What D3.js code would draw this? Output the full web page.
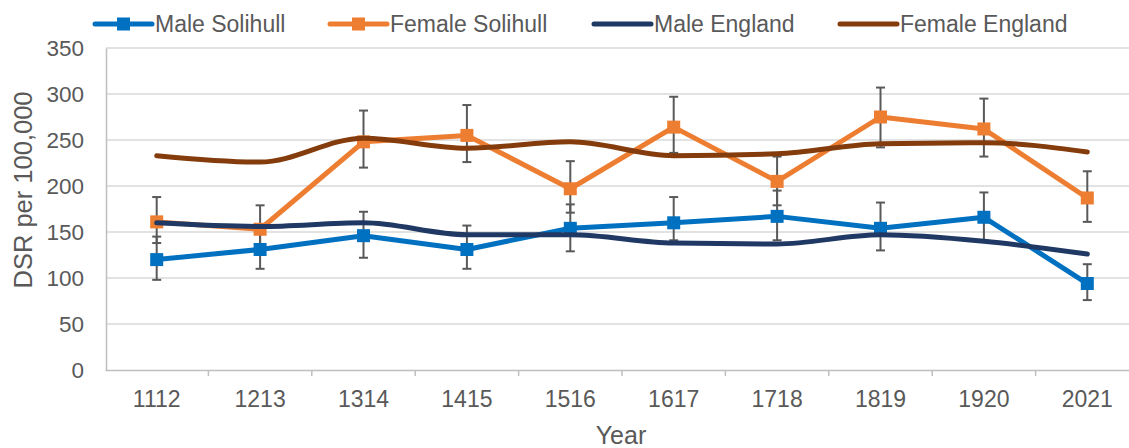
<!DOCTYPE html>
<html>
<head>
<meta charset="utf-8">
<script src="https://cdn.jsdelivr.net/npm/d3@7"></script>
<style>
    body { margin: 0; background: #fff; }
    text { font-family: "Liberation Sans", Arial, sans-serif; fill: #595959; }
</style>
</head>
<body>
<svg class="chart"></svg>
<script>
var years = ["1112", "1213", "1314", "1415", "1516", "1617", "1718", "1819", "1920", "2021"];
var yTicks = [0, 50, 100, 150, 200, 250, 300, 350];

var maleSolihull = [120, 131, 146, 131, 154, 160, 167, 154, 166, 94];
var maleSolihullLow = [98, 110, 122, 110, 129, 141, 141, 130, 141, 76];
var maleSolihullHigh = [145, 153, 172, 157, 180, 188, 195, 182, 193, 115];

var femaleSolihull = [161, 153, 248, 255, 197, 264, 205, 275, 262, 187];
var femaleSolihullLow = [138, 130, 220, 226, 171, 236, 179, 242, 232, 161];
var femaleSolihullHigh = [188, 179, 282, 288, 227, 297, 232, 307, 295, 216];

var maleEngland = [160, 156, 160, 147, 147, 138, 137, 147, 140, 126];
var femaleEngland = [233, 226, 252, 241, 248, 233, 235, 246, 247, 237];

var seriesNames = ["Male Solihull", "Female Solihull", "Male England", "Female England"];
var seriesColors = ["#0070C0", "#ED7D31", "#1F3864", "#843C0C"];

var series = [
    {name: seriesNames[0], color: seriesColors[0], values: maleSolihull, low: maleSolihullLow, high: maleSolihullHigh, markers: true},
    {name: seriesNames[1], color: seriesColors[1], values: femaleSolihull, low: femaleSolihullLow, high: femaleSolihullHigh, markers: true},
    {name: seriesNames[2], color: seriesColors[2], values: maleEngland, markers: false},
    {name: seriesNames[3], color: seriesColors[3], values: femaleEngland, markers: false}
];

var width = 1129, height = 448;
var svg = d3.select(".chart").attr("width", width).attr("height", height);

var xRange = d3.scaleBand().domain(years).range([105, 1139]);
var yRange = d3.scaleLinear().domain([0, 350]).range([370, 48]);

// gridlines
svg.append("g").selectAll("line")
    .data(yTicks.slice(1))
    .enter().append("line")
    .attr("x1", 106).attr("x2", width)
    .attr("y1", function (d) { return yRange(d); })
    .attr("y2", function (d) { return yRange(d); })
    .attr("stroke", "#d9d9d9").attr("stroke-width", 1.5);

// y axis
var yAxis = svg.append("g")
    .attr("transform", "translate(106,0)")
    .call(d3.axisLeft(yRange).tickValues(yTicks).tickSize(0).tickPadding(22));
yAxis.select(".domain").attr("stroke", "#bfbfbf").attr("stroke-width", 1.5);
yAxis.selectAll("text").style("font-size", "22.5px").attr("fill", "#595959");

// x axis
var xAxis = svg.append("g")
    .attr("transform", "translate(0,370)")
    .call(d3.axisBottom(xRange).tickSize(0).tickPadding(21));
xAxis.select(".domain").attr("stroke", "#bfbfbf").attr("stroke-width", 1.5);
xAxis.selectAll("text").style("font-size", "23px").attr("fill", "#595959");
xAxis.selectAll(".boundary")
    .data(years.slice(1))
    .enter().append("line")
    .attr("x1", function (d) { return xRange(d); })
    .attr("x2", function (d) { return xRange(d); })
    .attr("y1", 0).attr("y2", 6)
    .attr("stroke", "#bfbfbf").attr("stroke-width", 1.5);

// axis titles
svg.append("text")
    .attr("transform", "translate(32,190) rotate(-90)")
    .style("text-anchor", "middle")
    .style("font-size", "25.5px")
    .text("DSR per 100,000");
svg.append("text")
    .attr("x", 621).attr("y", 444)
    .style("text-anchor", "middle")
    .style("font-size", "25px")
    .text("Year");

var cx = function (d, i) { return xRange(years[i]) + xRange.bandwidth() / 2; };

// error bars
series.forEach(function (s) {
    if (!s.low) return;
    var g = svg.append("g").attr("stroke", "#595959").attr("stroke-width", 2);
    s.values.forEach(function (v, i) {
        var x = cx(v, i);
        g.append("line").attr("x1", x).attr("x2", x)
            .attr("y1", yRange(s.low[i])).attr("y2", yRange(s.high[i]));
        [s.low[i], s.high[i]].forEach(function (e) {
            g.append("line").attr("x1", x - 4.5).attr("x2", x + 4.5)
                .attr("y1", yRange(e)).attr("y2", yRange(e));
        });
    });
});

// lines and markers
series.forEach(function (s) {
    var line = d3.line()
        .x(function (d, i) { return cx(d, i); })
        .y(function (d) { return yRange(d); })
        .curve(s.markers ? d3.curveLinear : d3.curveMonotoneX);
    svg.append("path")
        .datum(s.values)
        .attr("d", line)
        .attr("fill", "none")
        .attr("stroke", s.color)
        .attr("stroke-width", 5)
        .attr("stroke-linejoin", "round")
        .attr("stroke-linecap", "round");
    if (s.markers) {
        svg.append("g").selectAll("rect")
            .data(s.values)
            .enter().append("rect")
            .attr("x", function (d, i) { return cx(d, i) - 6.5; })
            .attr("y", function (d) { return yRange(d) - 6.5; })
            .attr("width", 13).attr("height", 13)
            .attr("fill", s.color);
    }
});

// legend
var legendX = [95, 330, 594, 840];
var legend = svg.append("g").selectAll("g")
    .data(series)
    .enter().append("g")
    .attr("transform", function (s, i) { return "translate(" + legendX[i] + ",24)"; });
legend.append("line")
    .attr("x1", 0).attr("x2", 57).attr("y1", 0).attr("y2", 0)
    .attr("stroke", function (s) { return s.color; })
    .attr("stroke-width", 5)
    .attr("stroke-linecap", "round");
legend.filter(function (s) { return s.markers; })
    .append("rect")
    .attr("x", 22).attr("y", -6.5).attr("width", 13).attr("height", 13)
    .attr("fill", function (s) { return s.color; });
legend.append("text")
    .attr("x", 60).attr("y", 8)
    .style("font-size", "23px")
    .text(function (s) { return s.name; });
</script>
</body>
</html>
